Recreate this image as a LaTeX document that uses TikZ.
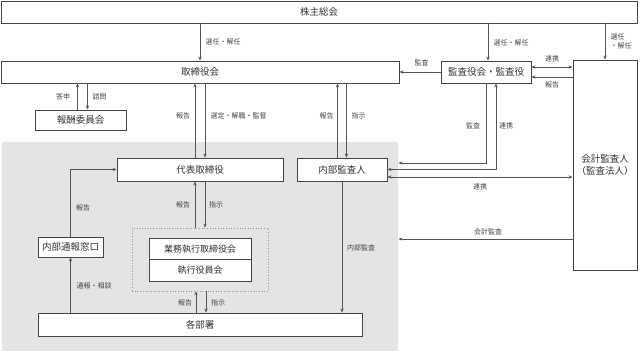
\documentclass[tikz,border=0pt]{standalone}
\usepackage{fontspec}
\setmainfont{Noto Sans CJK JP}
\usepackage{tikz}
\usetikzlibrary{positioning,arrows.meta}
\definecolor{boxC}{HTML}{454545}
\definecolor{lineC}{HTML}{555555}
\definecolor{txtC}{HTML}{333333}
\definecolor{lblC}{HTML}{444444}
\definecolor{areaC}{HTML}{E4E4E4}
\tikzset{
  bx/.style={rectangle, draw=boxC, fill=white, line width=0.9pt, inner sep=0pt, text=txtC, font=\fontsize{9.5}{12}\selectfont},
  area/.style={rectangle, fill=areaC, draw=none, inner sep=0pt},
  dotbox/.style={rectangle, draw=gray!80, dotted, line width=0.7pt, inner sep=0pt},
  lbl/.style={inner sep=1pt, text=lblC, font=\fontsize{7}{9}\selectfont},
  ar/.style={draw=lineC, line width=0.8pt, ->, >={Stealth[length=4pt,width=3.4pt]}},
  dar/.style={draw=lineC, line width=0.8pt, <->, >={Stealth[length=4pt,width=3.4pt]}},
  orgchart/.style={x=1pt, y=-1pt}
}
\begin{document}
\begin{tikzpicture}[orgchart]
  \useasboundingbox (0,0) rectangle (640,352);

  % Executive area (gray background)
  \node[area, minimum width=396pt, minimum height=209pt] (exec) at (200,246.5) {};

  % Top level boxes
  \node[bx, minimum width=636pt, minimum height=22pt] (sh) at (319,12) {株主総会};
  \node[bx, minimum width=398pt, minimum height=22pt] (bd) at (200,72) {取締役会};
  \node[bx, minimum width=90pt, minimum height=22pt] (aud) at (486,72) {監査役会・監査役};
  \node[bx, minimum width=64pt, minimum height=210pt, align=center] (ext) at (605,165) {会計監査人\\（監査法人）};
  \node[bx, minimum width=91pt, minimum height=20pt] (rem) at (80.5,120) {報酬委員会};

  % Boxes inside the executive area
  \node[bx, minimum width=166pt, minimum height=23pt] (ceo) at (200,169.5) {代表取締役};
  \node[bx, minimum width=90pt, minimum height=23pt] (ia) at (342,169.5) {内部監査人};
  \node[dotbox, minimum width=136pt, minimum height=63pt] (dot) at (200,259.5) {};
  \node[bx, minimum width=102pt, minimum height=21.5pt, font=\fontsize{9}{11}\selectfont] (exb) at (200,248.75) {業務執行取締役会};
  \node[bx, minimum width=102pt, minimum height=21.5pt, font=\fontsize{9}{11}\selectfont] (exo) at (200,270.25) {執行役員会};
  \node[bx, minimum width=65pt, minimum height=20pt] (wb) at (70.5,247) {内部通報窓口};
  \node[bx, minimum width=324pt, minimum height=23pt] (dept) at (200,324.5) {各部署};

  % Free ends on the edge of the executive area
  \coordinate (auditIn) at (398.5,163);
  \coordinate (extIn) at (398.5,239);

  % Shareholders
  \draw[ar] (sh.south -| bd) -- (bd.north);
  \draw[ar] ([xshift=2pt]sh.south -| aud) -- ([xshift=2pt]aud.north);
  \draw[ar] (sh.south -| ext) -- (ext.north);
  \node[lbl] (l1) at (223,42) {選任・解任};
  \node[lbl] (l2) at (511,43) {選任・解任};
  \node[lbl, align=left] (l3) at (621,41.5) {選任\\・解任};

  % Auditors
  \draw[ar] (aud.west) -- (bd.east);
  \node[lbl] (l4) at (421.5,63) {監査};
  \draw[dar] ([yshift=5pt]aud.east) -- ([yshift=5pt]aud.east -| ext.west);
  \node[lbl] (l5) at (552,59) {連携};
  \draw[ar] ([yshift=-5pt]aud.east -| ext.west) -- ([yshift=-5pt]aud.east);
  \node[lbl] (l6) at (552,85) {報告};
  \draw[ar] (aud.south) |- (auditIn);
  \node[lbl] (l7) at (473,126) {監査};
  \draw[dar] ([xshift=10pt]aud.south) |- (ia.east);
  \node[lbl] (l8) at (506,126) {連携};
  \draw[dar] ([yshift=-7.5pt]ia.east) -- ([yshift=-7.5pt]ia.east -| ext.west);
  \node[lbl] (l9) at (480,187) {連携};
  \draw[ar] (ext.west |- extIn) -- (extIn);
  \node[lbl] (l10) at (488,232) {会計監査};

  % Remuneration committee
  \draw[ar] ([xshift=-3pt]rem.north) -- ([xshift=-3pt]rem.north |- bd.south);
  \node[lbl] (l11) at (63,97) {答申};
  \draw[ar] ([xshift=7pt]rem.north |- bd.south) -- ([xshift=7pt]rem.north);
  \node[lbl] (l12) at (99.5,97) {諮問};

  % Board and representative director
  \draw[ar] ([xshift=-5pt]ceo.north) -- ([xshift=-5pt]ceo.north |- bd.south);
  \node[lbl] (l13) at (183,116) {報告};
  \draw[ar] ([xshift=5pt]ceo.north |- bd.south) -- ([xshift=5pt]ceo.north);
  \node[lbl] (l14) at (238.5,116) {選定・解職・監督};

  % Board and internal auditor
  \draw[ar] ([xshift=-4.5pt]ia.north) -- ([xshift=-4.5pt]ia.north |- bd.south);
  \node[lbl] (l15) at (326.5,116) {報告};
  \draw[ar] ([xshift=4.5pt]ia.north |- bd.south) -- ([xshift=4.5pt]ia.north);
  \node[lbl] (l16) at (358.5,116) {指示};
  \draw[ar] (ia.south) -- (ia.south |- dept.north);
  \node[lbl] (l17) at (361,248) {内部監査};

  % Representative director and executive bodies
  \draw[ar] ([xshift=-5pt]dot.north) -- ([xshift=-5pt]ceo.south);
  \node[lbl] (l18) at (183,205) {報告};
  \draw[ar] ([xshift=5pt]ceo.south) -- ([xshift=5pt]dot.north);
  \node[lbl] (l19) at (216,205) {指示};
  \draw[ar] ([xshift=-4pt]dept.north) -- ([xshift=-4pt]dot.south);
  \node[lbl] (l20) at (185,303) {報告};
  \draw[ar] ([xshift=6pt]dot.south) -- ([xshift=6pt]dept.north);
  \node[lbl] (l21) at (218,303) {指示};

  % Whistleblowing desk
  \draw[ar] (dept.north -| wb) -- (wb.south);
  \node[lbl] (l22) at (94,286) {通報・相談};
  \draw[ar] (wb.north) |- (ceo.west);
  \node[lbl] (l23) at (83,208) {報告};
\end{tikzpicture}
\end{document}
